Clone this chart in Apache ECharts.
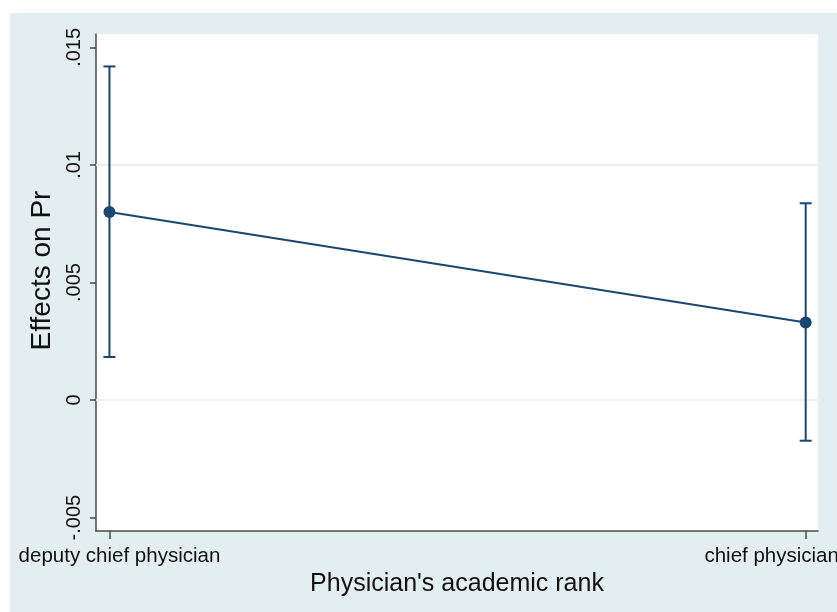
<!DOCTYPE html>
<html>
<head>
<meta charset="utf-8">
<script src="https://cdn.jsdelivr.net/npm/echarts@6/dist/echarts.min.js"></script>
<style>
html,body{margin:0;padding:0;background:#ffffff;}
#chart{width:837px;height:612px;}
</style>
</head>
<body>
<div id="chart"></div>
<script>
// ---- data ----
var categories = ['deputy chief physician', 'chief physician'];
var categoryPositions = [0, 1];
var effects = [0.0080, 0.0033];
var ciLower = [0.00183, -0.00173];
var ciUpper = [0.01419, 0.00837];
var yTickValues = [-0.005, 0, 0.005, 0.01, 0.015];
var yTickLabels = ['-.005', '0', '.005', '.01', '.015'];
var gridValues = [0, 0.005, 0.01, 0.015];
var xTitle = "Physician's academic rank";
var yTitle = 'Effects on Pr';

var navy = '#1A476F';
var chart = echarts.init(document.getElementById('chart'));

var pointData = categoryPositions.map(function (x, i) { return [x, effects[i]]; });
var ciData = categoryPositions.map(function (x, i) { return [x, ciLower[i], ciUpper[i]]; });

function yLabel(v) {
  for (var i = 0; i < yTickValues.length; i++) {
    if (Math.abs(yTickValues[i] - v) < 1e-9) return yTickLabels[i];
  }
  return '';
}

chart.setOption({
  animation: false,
  backgroundColor: '#ffffff',
  textStyle: { fontFamily: 'Liberation Sans, Arial, sans-serif' },
  graphic: [{
    type: 'rect', z: -10, silent: true,
    shape: { x: 10, y: 13, width: 827, height: 599 },
    style: { fill: '#E2EEF0' }
  }],
  grid: {
    left: 96, top: 34, right: 19, bottom: 81,
    containLabel: false,
    outerBoundsMode: 'none',
    show: true, backgroundColor: '#ffffff', borderWidth: 0
  },
  xAxis: {
    type: 'value',
    min: -0.0193, max: 1.0177,
    splitLine: { show: false },
    axisLine: { show: true, onZero: false, lineStyle: { color: '#4a4a4a', width: 1.5 } },
    axisTick: { show: true, customValues: categoryPositions, length: 8, lineStyle: { color: '#4a4a4a', width: 1.5 } },
    axisLabel: {
      customValues: categoryPositions,
      margin: 15,
      color: '#111',
      fontSize: 20.5,
      formatter: function (v) {
        var i = categoryPositions.indexOf(v);
        if (i === 0) return '{a|' + categories[0] + '}';
        if (i === 1) return '{b|' + categories[1] + '}';
        return '';
      },
      rich: {
        a: { fontSize: 20.5, color: '#111', padding: [0, 0, 0, 20] },
        b: { fontSize: 20.5, color: '#111', padding: [0, 68, 0, 0] }
      }
    },
    name: xTitle,
    nameLocation: 'middle',
    nameGap: 38,
    nameTextStyle: { fontSize: 25, color: '#111' }
  },
  yAxis: {
    type: 'value',
    min: -0.00557, max: 0.01557,
    splitLine: { show: false },
    axisLine: { show: true, onZero: false, lineStyle: { color: '#4a4a4a', width: 1.5 } },
    axisTick: { show: true, customValues: yTickValues, length: 6, lineStyle: { color: '#4a4a4a', width: 1.5 } },
    axisLabel: {
      customValues: yTickValues,
      rotate: 90,
      margin: 12,
      fontSize: 20,
      color: '#111',
      formatter: yLabel
    },
    name: yTitle,
    nameLocation: 'middle',
    nameGap: 35,
    nameTextStyle: { fontSize: 28, color: '#111', padding: [0, 0, 0, 24] }
  },
  series: [
    {
      type: 'custom',
      z: 2,
      silent: true,
      data: ciData,
      renderItem: function (params, api) {
        var x = api.value(0);
        var lo = api.coord([x, api.value(1)]);
        var hi = api.coord([x, api.value(2)]);
        var cap = 6;
        var style = { stroke: navy, lineWidth: 2 };
        return {
          type: 'group',
          children: [
            { type: 'line', shape: { x1: lo[0], y1: lo[1], x2: hi[0], y2: hi[1] }, style: style },
            { type: 'line', shape: { x1: lo[0] - cap, y1: lo[1], x2: lo[0] + cap, y2: lo[1] }, style: style },
            { type: 'line', shape: { x1: hi[0] - cap, y1: hi[1], x2: hi[0] + cap, y2: hi[1] }, style: style }
          ]
        };
      }
    },
    {
      type: 'line',
      z: 3,
      silent: true,
      data: pointData,
      symbol: 'circle',
      symbolSize: 12,
      itemStyle: { color: navy },
      lineStyle: { color: navy, width: 2 },
      markLine: {
        silent: true,
        symbol: 'none',
        z: 1,
        label: { show: false },
        lineStyle: { color: '#EAF2F3', width: 2, type: 'solid' },
        data: gridValues.map(function (v) { return { yAxis: v }; })
      }
    }
  ]
});
</script>
</body>
</html>
